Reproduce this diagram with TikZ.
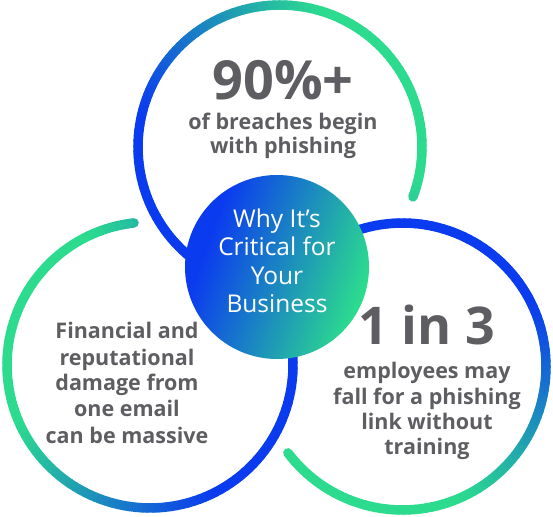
\documentclass[tikz,border=0pt]{standalone}
\usepackage{fontspec}
\setmainfont{Open Sans}
\usetikzlibrary{positioning}
\definecolor{brandblue}{HTML}{0B3BEF}
\definecolor{brandgreen}{HTML}{2CDB8E}
\definecolor{statgray}{HTML}{5E5E62}
\pgfdeclarehorizontalshading{hubfill}{100bp}{color(0bp)=(brandblue); color(30bp)=(brandblue); color(74bp)=(brandgreen); color(100bp)=(brandgreen)}
\tikzset{
  every picture/.style={x=1pt, y=1pt},
  ring/.style={line width=9.5pt, line cap=round},
  hubdisc/.style={circle, minimum size=184pt, inner sep=0pt, shading=hubfill, shading angle=-20},
  bignum/.style={font=\fontsize{54}{54}\selectfont\bfseries, text=statgray, inner sep=0pt},
  stat/.style={font=\fontsize{21.5}{25}\selectfont\bfseries, text=statgray, align=center, inner sep=0pt},
  hubtext/.style={font=\fontsize{24.5}{28.5}\selectfont, text=white, align=center, inner sep=0pt},
}
% ring arc: centre, radius, start, end, direction of the green side
\newcommand{\gradring}[5]{%
  \pgfmathsetmacro{\ringstep}{(#4-#3)/120}
  \foreach \k in {0,...,119}{
    \pgfmathsetmacro{\ringa}{#3+\ringstep*\k}
    \pgfmathsetmacro{\ringb}{\ringa+\ringstep}
    \pgfmathsetmacro{\ringg}{min(100,max(0,50+68*cos(\ringa-#5)))}
    \draw[ring, draw=brandgreen!\ringg!brandblue] (#1) ++(\ringa:#2) arc[start angle=\ringa, end angle=\ringb, radius=#2];
  }%
}

\begin{document}
\begin{tikzpicture}
\useasboundingbox (0,0) rectangle (553,516);
\coordinate (topc) at (280,369);
\coordinate (leftc) at (150,151);
\coordinate (rightc) at (402.5,149.5);

% the three rings
\gradring{topc}{142}{-20.6}{235}{30}
\gradring{leftc}{143}{96.4}{380}{160}
\gradring{rightc}{143.5}{217}{485}{250}

% hub
\node[hubdisc] (hub) at (277,249) {};
\node[hubtext, anchor=base] (hubtitle) at (277,203) {Why It’s\\Critical for\\Your\\Business};

% stats
\node[bignum, anchor=base] (topnum) at (283,416) {90\%+};
\node[stat, anchor=base, font=\fontsize{21.5}{24}\selectfont\bfseries] (toptext) at (283,362) {of breaches begin\\with phishing};
\node[bignum, anchor=base, font=\fontsize{52}{52}\selectfont\bfseries] (rightnum) at (427,171) {1 in 3};
\node[stat, anchor=base] (righttext) at (427,62) {employees may\\fall for a phishing\\link without\\training};
\node[stat, anchor=base, font=\fontsize{21.5}{26}\selectfont\bfseries] (lefttext) at (127,73) {Financial and\\reputational\\damage from\\one email\\can be massive};
\end{tikzpicture}
\end{document}
